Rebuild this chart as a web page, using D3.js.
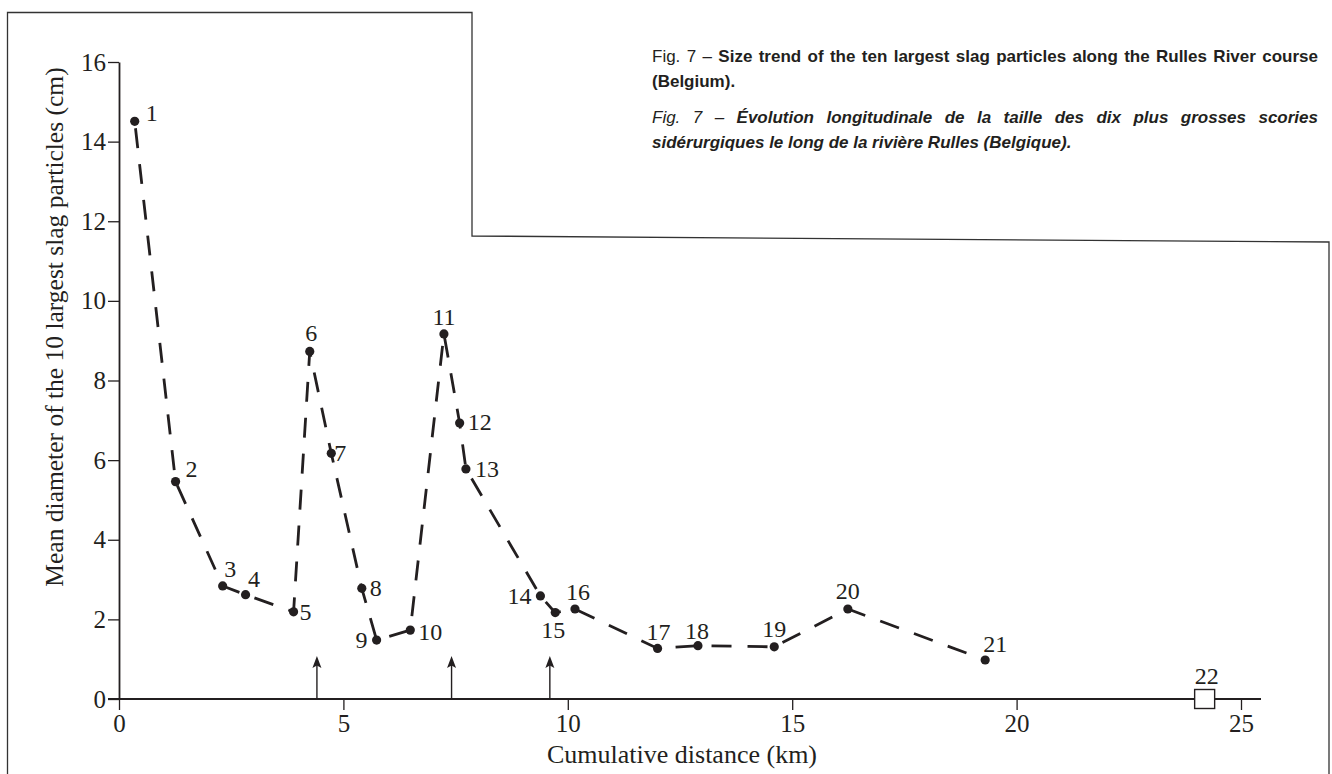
<!DOCTYPE html>
<html>
<head>
    <title>Rulles River slag particles</title>
    <style>
        body { margin: 0; background: #fff; }
        svg { display: block; }
        .tick text, .lbl, .axis-title { font-family: "Liberation Serif", "Times New Roman", serif; fill: #231f20; }
        .caption { font-family: "Liberation Sans", Arial, sans-serif; font-size: 17px; fill: #231f20; }
    </style>
    <script src="https://d3js.org/d3.v7.min.js"></script>
</head>
<body>
    <div id="chart"></div>
    <script>
        // cumulative distance (km) and mean diameter (cm) of sites 1-21
        const distance = [0.35, 1.26, 2.31, 2.82, 3.89, 4.25, 4.73, 5.41, 5.74, 6.49, 7.24,
                          7.59, 7.73, 9.39, 9.72, 10.16, 12.0, 12.9, 14.6, 16.24, 19.3];
        const diameter = [14.51, 5.46, 2.84, 2.62, 2.19, 8.73, 6.17, 2.78, 1.48, 1.73, 9.17,
                          6.93, 5.78, 2.59, 2.17, 2.26, 1.27, 1.34, 1.31, 2.26, 0.98];
        const siteNames = ["1", "2", "3", "4", "5", "6", "7", "8", "9", "10", "11",
                           "12", "13", "14", "15", "16", "17", "18", "19", "20", "21"];
        // site 22 : no slag found
        const emptySite = { name: "22", distance: 24.19, diameter: 0 };
        const arrowKm = [4.41, 7.41, 9.60];
        const xTicks = [0, 5, 10, 15, 20, 25];
        const yTicks = [0, 2, 4, 6, 8, 10, 12, 14, 16];

        // where each number sits relative to its dot
        const labelOffsets = [[17, 0], [16, -5], [7.5, -9], [8.5, -8], [12, 8], [1.5, -10], [9, 8],
            [14, 8], [-15, 8], [20, 10], [0, -9], [20, 7], [21, 8], [-21, 8], [-2, 25], [3, -9],
            [1, -8], [-1, -7], [0, -10], [0, -10], [10, -8]];

        const width = 1332, height = 774;
        const ink = "#231f20";

        const svg = d3.select("#chart").append("svg")
            .attr("width", width)
            .attr("height", height);

        // frame around the figure
        svg.append("path")
            .attr("d", "M7.5,774 L7.5,12.5 L472,12.5 L472,236 L1329,242 L1329,774")
            .attr("fill", "none")
            .attr("stroke", "#333")
            .attr("stroke-width", 1.3);

        const x = d3.scaleLinear().domain([0, 25]).range([119, 1241]);
        const y = d3.scaleLinear().domain([0, 16]).range([699, 62]);

        // x axis
        const gx = svg.append("g")
            .attr("transform", `translate(0,${y(0)})`)
            .call(d3.axisBottom(x).tickValues(xTicks).tickSize(11).tickPadding(4).tickSizeOuter(0));
        gx.select(".domain").remove();
        gx.append("line")
            .attr("x1", 108).attr("x2", 1261)
            .attr("stroke", ink).attr("stroke-width", 1.8);
        gx.selectAll(".tick line").attr("stroke", ink).attr("stroke-width", 1.3);
        gx.selectAll(".tick text").attr("font-size", 25).attr("fill", ink);

        // y axis
        const gy = svg.append("g")
            .attr("transform", `translate(${x(0)},0)`)
            .call(d3.axisLeft(y).tickValues(yTicks).tickSize(11).tickPadding(2).tickSizeOuter(0));
        gy.select(".domain").attr("stroke", ink).attr("stroke-width", 1.8);
        gy.selectAll(".tick line").attr("stroke", ink).attr("stroke-width", 1.3);
        gy.selectAll(".tick text").attr("font-size", 25).attr("fill", ink);

        svg.append("text")
            .attr("class", "axis-title")
            .attr("x", 682).attr("y", 763)
            .attr("text-anchor", "middle")
            .attr("font-size", 26)
            .text("Cumulative distance (km)");

        svg.append("text")
            .attr("class", "axis-title")
            .attr("transform", "translate(63,327) rotate(-90)")
            .attr("text-anchor", "middle")
            .attr("font-size", 25.5)
            .text("Mean diameter of the 10 largest slag particles (cm)");

        // arrows on the x axis
        const arrows = svg.selectAll(".arrow")
            .data(arrowKm)
            .enter().append("g")
            .attr("class", "arrow")
            .attr("transform", d => `translate(${x(d)},0)`);
        arrows.append("line")
            .attr("y1", y(0)).attr("y2", 660)
            .attr("stroke", ink).attr("stroke-width", 1.4);
        arrows.append("path")
            .attr("d", "M0,656 L-4.5,668 L0,665.5 L4.5,668 Z")
            .attr("fill", ink);

        // dashed trend line
        const pts = distance.map((d, i) => [x(d), y(diameter[i])]);
        svg.append("path")
            .attr("d", d3.line()(pts))
            .attr("fill", "none")
            .attr("stroke", ink)
            .attr("stroke-width", 2.8)
            .attr("stroke-dasharray", "20,16")
            .attr("stroke-dashoffset", -7);

        svg.selectAll(".dot")
            .data(pts)
            .enter().append("circle")
            .attr("class", "dot")
            .attr("cx", d => d[0]).attr("cy", d => d[1])
            .attr("r", 4.6)
            .attr("fill", ink);

        svg.selectAll(".lbl")
            .data(siteNames)
            .enter().append("text")
            .attr("class", "lbl")
            .attr("x", (d, i) => pts[i][0] + labelOffsets[i][0])
            .attr("y", (d, i) => pts[i][1] + labelOffsets[i][1])
            .attr("text-anchor", "middle")
            .attr("font-size", 24)
            .text(d => d);

        // site 22, open square
        svg.append("rect")
            .attr("x", x(emptySite.distance) - 10)
            .attr("y", y(emptySite.diameter) - 9.5)
            .attr("width", 20).attr("height", 19)
            .attr("fill", "#fff")
            .attr("stroke", ink).attr("stroke-width", 1.4);
        svg.append("text")
            .attr("class", "lbl")
            .attr("x", x(emptySite.distance) + 2)
            .attr("y", y(emptySite.diameter) - 15)
            .attr("text-anchor", "middle")
            .attr("font-size", 24)
            .text(emptySite.name);

        // caption, justified like the printed one
        const capLeft = 652, capRight = 1318;
        const captionLines = [
            { y: 62, justify: true, parts: [["Fig. 7 – ", "normal", "normal"],
                ["Size trend of the ten largest slag particles along the Rulles River course", "bold", "normal"]] },
            { y: 87, justify: false, parts: [["(Belgium).", "bold", "normal"]] },
            { y: 123, justify: true, parts: [["Fig. 7 – ", "normal", "italic"],
                ["Évolution longitudinale de la taille des dix plus grosses scories", "bold", "italic"]] },
            { y: 148, justify: false, parts: [["sidérurgiques le long de la rivière Rulles (Belgique).", "bold", "italic"]] }
        ];

        captionLines.forEach(line => {
            const t = svg.append("text")
                .attr("class", "caption")
                .attr("x", capLeft).attr("y", line.y)
                .attr("xml:space", "preserve");
            line.parts.forEach(p => {
                t.append("tspan")
                    .attr("font-weight", p[1])
                    .attr("font-style", p[2])
                    .text(p[0]);
            });
            if (line.justify) {
                const natural = t.node().getComputedTextLength();
                const spaces = line.parts.map(p => p[0]).join("").split(" ").length - 1;
                t.attr("word-spacing", (capRight - capLeft - natural) / spaces);
            }
        });
    </script>
</body>
</html>
